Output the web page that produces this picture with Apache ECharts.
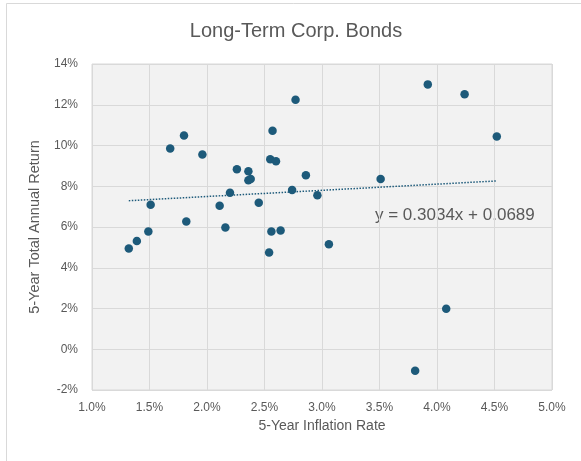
<!DOCTYPE html>
<html>
<head>
<meta charset="utf-8">
<script src="https://cdn.jsdelivr.net/npm/echarts@6/dist/echarts.min.js"></script>
<style>
  html, body { margin: 0; padding: 0; background: #ffffff; }
  #chart { width: 581px; height: 461px; }
</style>
</head>
<body>
<div id="chart"></div>
<script>
// 5-year inflation rate (%) and 5-year total annual return (%) per period
const inflation = [
  2.77, 2.57, 1.80, 1.68, 1.96, 2.55, 2.60, 2.26, 2.36, 2.36, 2.38,
  2.86, 2.74, 2.20, 2.96, 1.51, 2.11, 2.45, 1.82, 2.16, 1.49, 2.56,
  2.64, 1.39, 1.32, 2.54, 3.06, 3.92, 4.24, 4.52, 3.51, 4.08, 3.81
];
const annualReturn = [
  12.24, 10.72, 10.49, 9.85, 9.56, 9.33, 9.23, 8.84, 8.74, 8.30, 8.35,
  8.54, 7.82, 7.68, 7.56, 7.09, 7.04, 7.19, 6.27, 5.98, 5.78, 5.78,
  5.83, 5.31, 4.95, 4.75, 5.15, 13.00, 12.51, 10.44, 8.35, 1.99, -1.06
];

// Linear trend: y = slope * x + intercept (both axes as fractions)
const trendSlope = 0.3034;
const trendIntercept = 0.0689;

const titleText = 'Long-Term Corp. Bonds';
const xAxisName = '5-Year Inflation Rate';
const yAxisName = '5-Year Total Annual Return';

const FONT = '"Liberation Sans", Arial, sans-serif';
const TEXT_COLOR = '#595959';
const MARK_COLOR = '#1d5a7a';

const points = inflation.map((x, i) => [x, annualReturn[i]]);
const xMin = Math.min(...inflation);
const xMax = Math.max(...inflation);
const trendAt = x => (trendSlope * (x / 100) + trendIntercept) * 100;
const trendPoints = [[xMin, trendAt(xMin)], [xMax, trendAt(xMax)]];
const equationText = 'y = ' + trendSlope.toFixed(4) + 'x + ' + trendIntercept.toFixed(4);

const chart = echarts.init(document.getElementById('chart'), null, { renderer: 'canvas' });

chart.setOption({
  animation: false,
  backgroundColor: '#ffffff',
  textStyle: { fontFamily: FONT },
  grid: {
    left: 92, right: 29, top: 64, bottom: 71,
    show: true,
    backgroundColor: '#f2f2f2',
    borderColor: '#d9d9d9',
    borderWidth: 1
  },
  xAxis: {
    type: 'value',
    min: 1.0, max: 5.0, interval: 0.5,
    name: xAxisName,
    nameLocation: 'middle',
    nameGap: 28,
    nameTextStyle: { fontFamily: FONT, fontSize: 14, color: TEXT_COLOR },
    axisLine: { show: false },
    axisTick: { show: false },
    axisLabel: {
      margin: 12,
      fontFamily: FONT, fontSize: 12, color: TEXT_COLOR,
      formatter: v => v.toFixed(1) + '%'
    },
    splitLine: { show: true, lineStyle: { color: '#d9d9d9', width: 1 } }
  },
  yAxis: {
    type: 'value',
    min: -2, max: 14, interval: 2,
    name: yAxisName,
    nameLocation: 'middle',
    nameGap: 50,
    nameTextStyle: { fontFamily: FONT, fontSize: 14.5, color: TEXT_COLOR },
    axisLine: { show: false },
    axisTick: { show: false },
    axisLabel: {
      margin: 14,
      fontFamily: FONT, fontSize: 12, color: TEXT_COLOR,
      formatter: v => v + '%'
    },
    splitLine: { show: true, lineStyle: { color: '#d9d9d9', width: 1 } }
  },
  series: [
    {
      type: 'line',
      data: trendPoints,
      symbol: 'none',
      silent: true,
      lineStyle: { color: MARK_COLOR, width: 1.5, type: [1.5, 1.5] },
      z: 2
    },
    {
      type: 'scatter',
      data: points,
      symbol: 'circle',
      symbolSize: 8.5,
      itemStyle: { color: MARK_COLOR, opacity: 1 },
      z: 3
    }
  ],
  graphic: [
    {
      type: 'text',
      x: 296, y: 31,
      style: {
        text: titleText, fontFamily: FONT, fontSize: 20, fill: TEXT_COLOR,
        align: 'center', verticalAlign: 'middle'
      }
    },
    {
      type: 'text',
      x: 375, y: 215,
      style: {
        text: equationText, fontFamily: FONT, fontSize: 17, fill: TEXT_COLOR,
        align: 'left', verticalAlign: 'middle'
      }
    },
    {
      type: 'line',
      shape: { x1: 6.5, y1: 3.5, x2: 581, y2: 3.5 },
      style: { stroke: '#d9d9d9', lineWidth: 1 }
    },
    {
      type: 'line',
      shape: { x1: 6.5, y1: 3.5, x2: 6.5, y2: 461 },
      style: { stroke: '#d9d9d9', lineWidth: 1 }
    }
  ]
});
</script>
</body>
</html>
